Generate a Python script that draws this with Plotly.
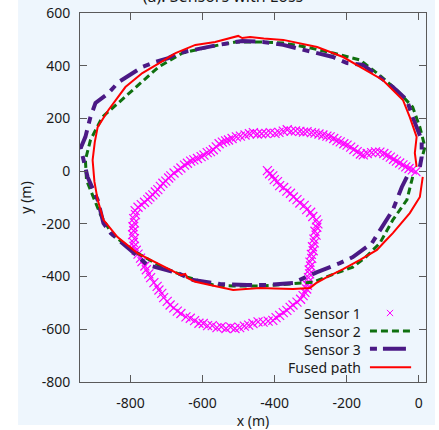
import plotly.graph_objects as go

# ---------------- data ----------------
sensor1_x = [-420, -414, -405, -401, -392, -386, -375, -366, -356, -348, -338, -330, -318, -311, -300, -294, -284, -280,
             -283, -288, -285, -291, -290, -295, -293, -298, -297, -302, -300, -304, -303, -306, -305, -309, -311, -316,
             -321, -328, -338, -349, -357, -366, -376, -386, -396, -405, -418, -432, -446, -460, -472, -484, -497, -510,
             -522, -535, -548, -560, -573, -586, -598, -610, -622, -634, -646, -660, -670, -680, -690, -698, -708, -713,
             -721, -726, -735, -744, -749, -756, -760, -768, -772, -779, -784, -790, -792, -789, -794, -791, -793, -789,
             -791, -786, -787, -779, -770, -761, -752, -746, -738, -731, -724, -717, -710, -702, -694, -688, -679, -668,
             -660, -650, -642, -633, -624, -614, -604, -596, -587, -578, -570, -562, -554, -545, -536, -528, -518, -506,
             -495, -482, -470, -459, -448, -436, -424, -412, -399, -388, -376, -365, -354, -342, -330, -320, -310, -298,
             -288, -277, -266, -255, -246, -236, -227, -218, -208, -199, -189, -180, -171, -162, -154, -143, -131, -120,
             -108, -97, -88, -79, -70, -62, -53, -44, -36, -27, -18, -8]
sensor1_y = [2, -10, -18, -32, -40, -55, -62, -76, -84, -98, -108, -121, -130, -146, -156, -172, -185, -200,
             -213, -228, -243, -258, -272, -287, -302, -316, -331, -345, -360, -375, -390, -404, -419, -433, -447, -460,
             -472, -486, -497, -508, -517, -528, -537, -547, -556, -566, -569, -573, -572, -578, -584, -588, -594, -597,
             -592, -597, -591, -594, -586, -586, -578, -577, -567, -558, -553, -540, -531, -519, -508, -494, -480, -464,
             -451, -437, -423, -404, -390, -374, -360, -343, -330, -315, -300, -285, -270, -256, -241, -226, -211, -196,
             -180, -165, -150, -137, -127, -118, -108, -98, -90, -79, -70, -58, -46, -38, -26, -18, -7, 3,
             12, 23, 30, 38, 43, 48, 55, 61, 70, 74, 81, 92, 104, 110, 115, 118, 124, 130,
             133, 137, 142, 146, 141, 142, 143, 146, 143, 147, 152, 157, 152, 153, 151, 148, 150, 146,
             144, 141, 137, 133, 130, 124, 116, 111, 104, 99, 91, 82, 74, 65, 62, 67, 70, 73,
             72, 67, 60, 53, 45, 38, 31, 24, 16, 10, 5, -2]

sensor2_x = [-17, -33, -72, -108, -150, -183, -227, -260, -293, -357, -400, -440, -515, -570, -605, -642, -680, -717,
             -786, -850, -883, -902, -922, -925, -911, -878, -833, -794, -722, -656, -584, -509, -440, -376, -310,
             -238, -163, -116, -61, -17, 3, 17, 11]
sensor2_y = [-22, -109, -185, -273, -330, -364, -386, -405, -421, -428, -432, -436, -436, -432, -418, -402, -382, -360,
             -307, -242, -166, -98, -34, 42, 118, 205, 259, 308, 395, 448, 471, 490, 490, 486, 470,
             448, 422, 372, 308, 243, 167, 92, 61]

sensor3_x = [-33, -47, -72, -89, -130, -183, -219, -282, -349, -421, -476, -551, -626, -670, -717, -753, -800, -855,
             -875, -891, -919, -930, -938, -925, -911, -897, -861, -833, -767, -731, -695, -667, -601, -556, -490,
             -432, -376, -338, -302, -238, -199, -155, -116, -72, -33, -17, 8, 8, 3]
sensor3_y = [-22, -60, -147, -185, -273, -326, -349, -383, -424, -432, -432, -428, -413, -386, -367, -356, -299, -235,
             -197, -109, -22, 42, 88, 130, 205, 259, 296, 338, 395, 414, 429, 448, 467, 479, 494,
             490, 479, 467, 452, 433, 410, 403, 365, 319, 270, 205, 118, 54, 16]

fused_x = [11, 3, -25, -50, -72, -95, -116, -163, -210, -255, -285, -302, -330, -349, -400, -440, -480, -515, -579,
           -620, -642, -648, -660, -670, -717, -781, -836, -875, -891, -900, -905, -899, -891, -861, -814, -767, -720,
           -675, -620, -590, -565, -501, -490, -468, -430, -376, -282, -210, -172, -100, -44, -25, -6, -11, -6]
fused_y = [-22, -98, -159, -200, -235, -268, -299, -337, -372, -402, -425, -443, -447, -447, -445, -443, -447, -451,
           -432, -420, -405, -390, -395, -388, -356, -311, -250, -185, -109, -40, 42, 110, 167, 232, 319, 372, 410,
           448, 479, 485, 490, 513, 505, 509, 503, 498, 471, 433, 403, 346, 270, 205, 130, 69, 16]

x_ticks = [-800, -600, -400, -200, 0]
x_tick_labels = ["-800", "-600", "-400", "-200", "0"]
y_ticks = [-800, -600, -400, -200, 0, 200, 400, 600]
y_tick_labels = ["-800", "-600", "-400", "-200", "0", "200", "400", "600"]

series_names = ["Sensor 1", "Sensor 2", "Sensor 3", "Fused path"]

# ---------------- styles ----------------
MAGENTA = "#ff00ff"
GREEN = "#0f700f"
PURPLE = "#4b1985"
RED = "#ff0000"
BG = "#eef6fd"
FONT = "Noto Sans"
TXT = "#1a1a1a"
AX = "#5a5a5a"

fig = go.Figure()
fig.add_trace(go.Scatter(x=sensor1_x, y=sensor1_y, mode="markers", name=series_names[0],
                         marker=dict(symbol="x-thin-open", size=9, color=MAGENTA,
                                     line=dict(color=MAGENTA, width=1.2)),
                         showlegend=False))
fig.add_trace(go.Scatter(x=sensor2_x, y=sensor2_y, mode="lines", name=series_names[1],
                         line=dict(color=GREEN, width=3, dash="7px,4px"), showlegend=False))
fig.add_trace(go.Scatter(x=sensor3_x, y=sensor3_y, mode="lines", name=series_names[2],
                         line=dict(color=PURPLE, width=4, dash="20px,7px,7px,7px"), showlegend=False))
fig.add_trace(go.Scatter(x=fused_x, y=fused_y, mode="lines", name=series_names[3],
                         line=dict(color=RED, width=2), showlegend=False))

# light-blue page panel
shapes = [dict(type="rect", xref="paper", yref="paper", x0=-0.179, x1=1.026, y0=-0.1165, y1=1.05,
               fillcolor=BG, line=dict(width=0), layer="below")]

# manual gnuplot-style key (text right-aligned, sample on the right)
key_rows_y = [0.187, 0.138, 0.090, 0.040]
key_text_x = 0.815
key_x0, key_x1 = 0.838, 0.957
annotations = []
for name, yy in zip(series_names, key_rows_y):
    annotations.append(dict(x=key_text_x, y=yy, xref="paper", yref="paper", text=name, showarrow=False,
                            xanchor="right", yanchor="middle", borderpad=0, height=16,
                            font=dict(family=FONT, size=14, color=TXT)))
# sensor 1 sample: small x
mx, my, dx, dy = 0.896, key_rows_y[0], 0.009, 0.0085
shapes.append(dict(type="line", xref="paper", yref="paper", x0=mx - dx, x1=mx + dx, y0=my - dy, y1=my + dy,
                   line=dict(color=MAGENTA, width=1)))
shapes.append(dict(type="line", xref="paper", yref="paper", x0=mx - dx, x1=mx + dx, y0=my + dy, y1=my - dy,
                   line=dict(color=MAGENTA, width=1)))
shapes.append(dict(type="line", xref="paper", yref="paper", x0=key_x0, x1=key_x1, y0=key_rows_y[1], y1=key_rows_y[1],
                   line=dict(color=GREEN, width=3, dash="7px,4px")))
shapes.append(dict(type="line", xref="paper", yref="paper", x0=key_x0, x1=key_x1 - 0.015, y0=key_rows_y[2],
                   y1=key_rows_y[2], line=dict(color=PURPLE, width=4, dash="7px,6px,24px,7px")))
shapes.append(dict(type="line", xref="paper", yref="paper", x0=key_x0, x1=key_x1, y0=key_rows_y[3], y1=key_rows_y[3],
                   line=dict(color=RED, width=2)))

axis_common = dict(showline=True, linecolor=AX, linewidth=1, mirror="ticks", ticks="inside", ticklen=7,
                   tickcolor=AX, tickwidth=1, showgrid=False, zeroline=False,
                   tickfont=dict(family=FONT, size=14, color=TXT))

fig.update_layout(
    width=439, height=430,
    margin=dict(l=80, r=13, t=13, b=48, autoexpand=False),
    paper_bgcolor="white", plot_bgcolor=BG,
    title=dict(text="(a): Sensors with Loss", x=0.508, xanchor="center", yref="container", y=0.995,
               yanchor="bottom", font=dict(family=FONT, size=16, color=TXT)),
    xaxis=dict(range=[-940, 20], tickvals=x_ticks, ticktext=x_tick_labels, ticklabelstandoff=8,
               title=dict(text="x (m)", standoff=0, font=dict(family=FONT, size=14, color=TXT)), **axis_common),
    yaxis=dict(range=[-800, 600], tickvals=y_ticks, ticktext=y_tick_labels, ticklabelstandoff=6,
               title=dict(text="y (m)", standoff=6, font=dict(family=FONT, size=14, color=TXT)), **axis_common),
    shapes=shapes, annotations=annotations, showlegend=False,
)

fig.write_html("out.html", config={"displayModeBar": False},
               post_script="document.body.style.margin='0';")
